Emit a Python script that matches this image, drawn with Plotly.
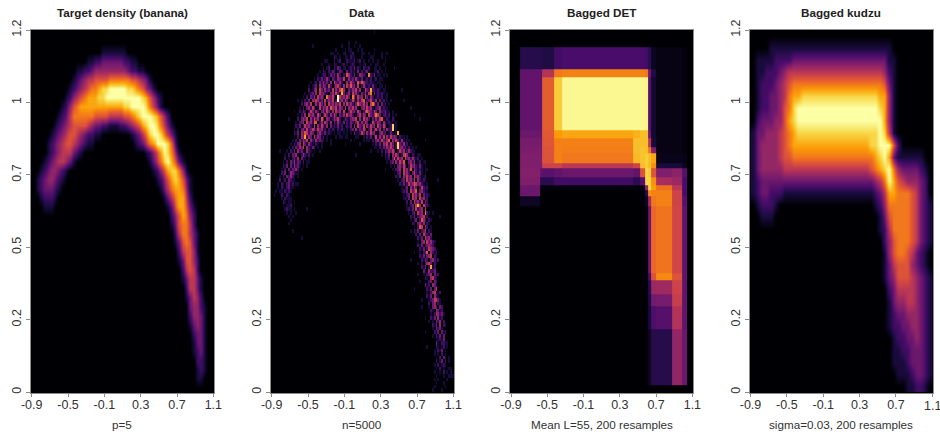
import plotly.graph_objects as go

TITLES = ["Target density (banana)", "Data", "Bagged DET", "Bagged kudzu"]
CAPTIONS = ["p=5", "n=5000", "Mean L=55, 200 resamples", "sigma=0.03, 200 resamples"]
X_TICKS = [-0.9, -0.5, -0.1, 0.3, 0.7, 1.1]
X_LABELS = ["-0.9", "-0.5", "-0.1", "0.3", "0.7", "1.1"]
Y_TICKS = [0, 0.24, 0.48, 0.72, 0.96, 1.2]
Y_LABELS = ["0", "0.2", "0.5", "0.7", "1", "1.2"]

# Each row is a list of (first column, density digits 0-a), top row first.
TARGET_ROWS = [
 [], [], [(19,"1111111")], [(15,"11223333332211")],
 [(12,"1122344444444432211")], [(11,"1234556666777777665431")],
 [(10,"12345677899aaaaa99876431")],
 [(9,"12456788899aaaaaaaaaa986421")],
 [(8,"1246788888888888899aaaa97531")],
 [(7,"12357777776666555566789aaa98642")],
 [(6,"123456666543322111223456"),(30,"89aa97531")],
 [(5,"12345665432211"),(27,"123579aa97531")],
 [(4,"1234566543211"),(28,"123578aaa962")],
 [(4,"1234555321"),(31,"12468a9741")],
 [(3,"123455431"),(32,"13579a8631")],
 [(2,"12344321"),(33,"1246899741")],
 [(1,"12344321"),(34,"1246898631")],
 [(1,"1233321"),(35,"135788741")],
 [(2,"12221"),(36,"13578852")],
 [(3,"111"),(37,"13688631")],
 [(38,"2468742")],
 [(38,"1367752")],
 [(39,"2577531")],
 [(39,"1367631")],
 [(40,"256641")],
 [(40,"136642")],
 [(41,"25652")],
 [(41,"135531")],
 [(42,"25531")],
 [(42,"13542")],
 [(43,"34421")],
 [(43,"24431")],
 [(43,"13431")],
 [(44,"2331")],
 [(44,"1331")],
 [(44,"1231")],
 [(45,"221")],
 [(45,"121")],
 [(45,"11")],
 [],
]

DATA_ROWS = [
 [(56,"1")], [], [], [(42,"1"),(46,"1")], [(38,"1"),(42,"1001"),(48,"1")],
 [(35,"1"),(40,"1011"),(47,"101"),(56,"1")],
 [(32,"11"),(36,"1"),(39,"120012"),(48,"011"),(53,"1"),(60,"1")],
 [(34,"2101"),(40,"1102110"),(49,"1"),(54,"11"),(60,"1"),(62,"1")],
 [(30,"1"),(34,"2"),(36,"120"),(41,"21112"),(47,"1201"),(53,"101"),(58,"1"),(62,"1")],
 [(27,"1"),(31,"1"),(33,"021"),(38,"1201"),(43,"121"),(48,"1"),(50,"12"),(54,"1"),(57,"11"),(61,"1")],
 [(28,"10120"),(34,"2132012"),(42,"1213021"),(50,"2112"),(55,"011"),(59,"1"),(62,"1")],
 [(26,"1021"),(31,"213201320"),(41,"3121203"),(49,"21231"),(55,"0112"),(60,"101")],
 [(25,"10122"),(31,"1323142"),(39,"2134213"),(47,"14321"),(53,"2213"),(58,"1101"),(63,"1")],
 [(23,"10213124203214325014231421301212012011")],
 [(21,"101203242314053242014253214304221211011")],
 [(20,"1012304243152024531405323415024212131101101")],
 [(20,"20134053142315042534103243524015324221210110")],
 [(18,"1012314053421034253143024153420324152031212101")],
 [(17,"102032415342014352015342530241534053142012120110")],
 [(16,"10213043542305243502134253025314253023521403120101")],
 [(16,"2034250142531405342435041534203143524052413031201")],
 [(15,"10203425301524352043524315043524103425341023412110")],
 [(15,"2132025314203425314053415203534153025143253042231101")],
 [(14,"1021405342153025314253032415342013524305324253023120101")],
 [(14,"203435042534153043124352013213435041534203142531021021")],
 [(13,"10234053426302415314031421302132035142530153243042121101")],
 [(13,"21302534215042531403121312012130415325042534053253012011")],
 [(12,"102034252304253412021210212101023041325302513524031422101")],
 [(12,"213043152431034213121010110101010314253042534103423013101")],
 [(12,"1020435243052431201"),(35,"101"),(40,"11"),(46,"110"),(50,"1021302534250425343021101")],
 [(11,"10203243504214232101"),(45,"1"),(50,"10"),(53,"10203425324604253141011")],
 [(10,"102134053142102101"),(32,"1"),(48,"1"),(55,"1021304352530253241201")],
 [(9,"10203243504213201"),(27,"1"),(56,"1"),(57,"10203243530253423120101")],
 [(8,"1021304231042101"),(26,"1"),(58,"102032435302534024211")],
 [(7,"1020324102421201"),(60,"1021304253025341021011")],
 [(7,"20102314031101"),(62,"102034253405342421201")],
 [(6,"102032413202011"),(63,"1023042534103424012011")],
 [(6,"21303142310101"),(65,"10203425302534213101")],
 [(5,"102031324201"),(66,"10234053425042121011")],
 [(5,"2130143211"),(67,"102305342035213101")],
 [(4,"10203242101"),(68,"21304253405342012")],
 [(4,"2012032110"),(69,"1023053425042121")],
 [(3,"102102312011"),(70,"2130253405342101")],
 [(3,"1021023110"),(71,"102304253025212")],
 [(4,"1102121"),(72,"21305342034211")],
 [(5,"21021"),(72,"102305342503121")],
 [(5,"102111"),(73,"2130534053412")],
 [(6,"2101101"),(74,"203053425032")],
 [(6,"101120"),(74,"1023053405321")],
 [(7,"1211"),(12,"1"),(75,"2130523405")],
 [(8,"101"),(13,"1"),(75,"10230534032101")],
 [(9,"1"),(76,"2130234512")],
 [(10,"1"),(76,"102302342021")],
 [(9,"1"),(77,"2103424021")],
 [(78,"1023504201")],
 [(11,"1"),(78,"2130235021")],
 [(79,"203053213")],
 [(80,"21305342")],
 [(80,"1034053421")],
 [(80,"213023432")],
 [(81,"2130254320")],
 [(78,"1"),(81,"1023504212")],
 [(81,"2130345021")],
 [(82,"2132034202")],
 [(80,"1"),(82,"102453021")],
 [(82,"21302312")],
 [(83,"3104223")],
 [(80,"1"),(83,"102340312")],
 [(84,"2104321")],
 [(81,"1"),(84,"1023032")],
 [(84,"3120431")],
 [(85,"213032")],
 [(85,"10245012")],
 [(85,"2130421")],
 [(82,"1"),(86,"1230531")],
 [(86,"2034021")],
 [(86,"10342032")],
 [(87,"2104312")],
 [(87,"10240231")],
 [(87,"2130412")],
 [(86,"1"),(88,"1032402")],
 [(88,"21304021")],
 [(88,"103231")],
 [(89,"2130312")],
 [(88,"1"),(90,"21303")],
 [(90,"112130")],
 [(90,"3102211")],
 [(90,"2101201")],
 [(89,"1"),(91,"21301")],
 [(89,"101"),(93,"201")],
 [(90,"10203101")],
 [(90,"20130201")],
 [(89,"1020121")],
 [(90,"1"),(92,"201"),(97,"1")],
 [(89,"1"),(92,"102"),(95,"01"),(98,"1")],
 [(90,"10"),(94,"1"),(97,"11")],
 [(89,"1"),(91,"1"),(96,"1")],
 [(90,"1"),(94,"1")],
 [(89,"1"),(95,"1")],
 [(88,"1"),(93,"1")],
]
# Notable single cells of the data panel: (row from top, column, level).
DATA_PEAKS = [(18,36,10),(19,36,10),(17,38,8),(16,38,7),(16,54,8),(17,54,7),(12,53,7),(20,55,7),
 (29,18,8),(28,18,6),(26,66,9),(27,66,9),(31,69,9),(32,69,9),(18,44,7),(20,47,6),(23,57,7),(18,30,7),
 (48,80,8),(50,84,7),(65,87,8),(54,81,6),(14,47,6),(14,49,6),(12,41,6),(34,73,6),(28,69,8),(42,78,6),
 (25,24,6),(74,89,5),(22,52,6),(36,72,6),(61,85,6),(15,43,6),(19,50,6),(21,32,6),(24,27,6),(27,22,5),
 (24,60,6),(30,64,6),(35,67,6),(38,76,6),(44,79,6),(52,82,6),(57,84,5),(68,88,5),(71,90,5),(78,91,4)]
# Stray dim cells outside the dense band.
DATA_STRAY = [(52,10),(51,11),(57,16),(49,19),(45,1),(44,2),(33,4),(24,9),(22,12),(19,14),(24,81),(30,84),
 (41,91),(51,92),(71,78),(79,84),(87,85),(93,98),(95,99),(97,94),(28,47),(30,52),(29,38),(30,32),(30,43),
 (29,58),(32,60),(35,63),(40,69),(44,71),(49,74),(4,22),(8,29),(6,56),(6,63),(10,67),(16,71),(19,72),
 (21,76),(23,78),(31,40),(33,54),(34,46),(38,62),(46,72),(55,76),(63,76),(76,82),(83,84)]

# Bagged DET: cell edges in axis units and cell levels in percent, top row first.
DET_X_EDGES = [-0.80,-0.58,-0.555,-0.427,-0.336,0.445,0.518,0.573,0.609,0.645,0.70,0.88,0.99,1.045]
DET_Y_EDGES = [1.143,1.069,1.044,0.868,0.84,0.813,0.791,0.758,0.741,0.713,0.686,0.669,0.648,0.615,0.394,0.372,0.323,0.284,0.207,0.022]
DET_LEVELS = [
 [14,14,12,20,22,22,22,20,15, 5, 3, 3, 2],
 [28,28,48,70,72,72,72,70,30,12, 3, 3, 2],
 [28,28,63,88,98,98,98,97,25, 8, 3, 3, 2],
 [30,30,62,78,80,82,85,85,30, 8, 3, 3, 2],
 [33,33,61,72,72,85,85,85,50,10, 3, 3, 2],
 [34,34,60,72,71,85,86,85,70,35, 3, 3, 2],
 [35,35,60,72,70,84,86,88,85,80, 4, 4, 3],
 [35,35,55,55,50,55,85,88,85,75,10,10, 5],
 [36,28,26,28,30,28,60,90,88,60,35,38,25],
 [35,15,15,20,20,15,25,90,90,75,45,42,22],
 [30, 2, 2, 2, 2, 2, 3,40,90,78,68,50,22],
 [30, 0, 0, 0, 0, 0, 1,15,75,72,72,55,22],
 [ 6, 0, 0, 0, 0, 0, 1, 6,45,70,72,55,25],
 [ 0, 0, 0, 0, 0, 0, 0, 2,30,66,69,56,28],
 [ 0, 0, 0, 0, 0, 0, 0, 2,22,60,74,60,28],
 [ 0, 0, 0, 0, 0, 0, 0, 1,15,42,43,55,28],
 [ 0, 0, 0, 0, 0, 0, 0, 1,12,32,33,53,28],
 [ 0, 0, 0, 0, 0, 0, 0, 1,10,23,25,48,28],
 [ 0, 0, 0, 0, 0, 0, 0, 1, 6,14,14,40,30],
]

KUDZU_ROWS = [
 [],
 [(4,"111"),(7,"11111111111111111111111"),(30,"1")],
 [(1,"11112"),(6,"222"),(9,"333333333333333333333"),(30,"11")],
 [(1,"1122234"),(8,"555555555555555555555"),(29,"421")],
 [(1,"12223456"),(9,"77777777777777777777"),(29,"631")],
 [(1,"12233457"),(9,"88999999999999999998"),(29,"841")],
 [(1,"122334679"),(10,"aaaaaaaaaaaaaaaaaa"),(28,"9841")],
 [(1,"233344689"),(10,"aaaaaaaaaaaaaaaaaaa"),(29,"841")],
 [(0,"1334445678"),(10,"999999999999999999a"),(29,"951")],
 [(0,"1344445678"),(9,"88888888888888888"),(26,"99aaa62")],
 [(0,"1344445667"),(10,"77777777777777777"),(27,"89a83111111")],
 [(0,"134444455"),(9,"55555555555555555"),(26,"6789a74333321")],
 [(0,"123333333"),(9,"33333333333333333"),(26,"3457a86544432")],
 [(0,"123322211111111111111111111"),(27,"235887776532")],
 [(1,"122210"),(27,"1247777765321")],
 [(2,"111"),(28,"136777765321")],
 [(28,"125777765321")],
 [(29,"24677765321")],
 [(29,"1467765321")],
 [(29,"1356664321")],
 [(29,"13466654321")],
 [(30,"2355554321")],
 [(30,"1344554321")],
 [(30,"1233444321")],
 [(30,"1223344321")],
 [(31,"122334321")],
 [(31,"112233321")],
 [(31,"111233321")],
 [(32,"11123321")],
 [(34,"11221")],
]


def to_grid(rows, cols):
    grid = [[0] * cols for _ in rows]
    for i, row in enumerate(rows):
        for start, digits in row:
            for k, ch in enumerate(digits):
                if start + k < cols:
                    grid[i][start + k] = int(ch, 16)
    return grid[::-1]


data_grid = to_grid(DATA_ROWS, 100)
for r, c in DATA_STRAY:
    data_grid[99 - r][c] = 1
for r, c, v in DATA_PEAKS:
    data_grid[99 - r][c] = v

PANELS_PX = [(30.7, 214), (270.7, 454), (510, 693), (749.5, 933)]
W, H = 940, 436
TOP, BOTTOM = 30, 393

fig = go.Figure()
common = dict(colorscale="Inferno", showscale=False, hoverinfo="skip")
fig.add_trace(go.Heatmap(z=to_grid(TARGET_ROWS, 50), x0=-0.88, dx=0.04, y0=0.015, dy=0.03,
                         zmin=0, zmax=10, zsmooth="best", xaxis="x", yaxis="y", **common))
fig.add_trace(go.Heatmap(z=data_grid, x0=-0.89, dx=0.02, y0=0.006, dy=0.012,
                         zmin=0, zmax=10, zsmooth=False, xaxis="x2", yaxis="y2", **common))
fig.add_trace(go.Heatmap(z=DET_LEVELS[::-1], x=DET_X_EDGES, y=DET_Y_EDGES[::-1],
                         zmin=0, zmax=100, zsmooth=False, xaxis="x3", yaxis="y3", **common))
fig.add_trace(go.Heatmap(z=to_grid(KUDZU_ROWS, 40), x0=-0.875, dx=0.05, y0=0.02, dy=0.04,
                         zmin=0, zmax=10, zsmooth="best", xaxis="x4", yaxis="y4", **common))

GREY = "#8c8c8c"
TEXT = "#333333"
layout = dict(width=W, height=H, autosize=False, margin=dict(l=0, r=0, t=0, b=0),
              paper_bgcolor="white", plot_bgcolor="#000004", showlegend=False,
              font=dict(family="Liberation Sans, Arial, sans-serif", size=12, color=TEXT))
annotations = []
for n, (x0, x1) in enumerate(PANELS_PX):
    suffix = "" if n == 0 else str(n + 1)
    # The last tick label of the last panel runs past the page edge, so it is placed as a note.
    x_text = X_LABELS if n < 3 else X_LABELS[:-1] + [""]
    layout["xaxis" + suffix] = dict(domain=[x0 / W, x1 / W], range=[-0.911, 1.107], anchor="y" + suffix,
        tickmode="array", tickvals=X_TICKS, ticktext=x_text, ticks="outside", ticklen=3, tickwidth=1,
        ticklabelstandoff=-3,
        tickcolor=GREY, showline=True, linecolor=GREY, linewidth=1, mirror=True, showgrid=False, zeroline=False,
        tickfont=dict(size=12.5, color=TEXT), tickangle=0, automargin=False)
    layout["yaxis" + suffix] = dict(domain=[1 - BOTTOM / H, 1 - TOP / H], range=[-0.003, 1.2], anchor="x" + suffix,
        tickmode="array", tickvals=Y_TICKS, ticktext=Y_LABELS, ticks="outside", ticklen=4, tickwidth=1,
        tickcolor=GREY, showline=True, linecolor=GREY, linewidth=1, mirror=True, showgrid=False, zeroline=False,
        tickfont=dict(size=12.5, color=TEXT), tickangle=-90, automargin=False)
    mid = (x0 + x1) / 2 / W
    annotations.append(dict(text="<b>" + TITLES[n] + "</b>", x=mid, y=1 - 12.5 / H, xref="paper", yref="paper",
                            showarrow=False, font=dict(size=11.7, color="#222222"), xanchor="center", yanchor="middle"))
    annotations.append(dict(text=CAPTIONS[n], x=mid, y=1 - 424 / H, xref="paper", yref="paper",
                            showarrow=False, font=dict(size=11.7, color=TEXT), xanchor="center", yanchor="middle"))
annotations.append(dict(text=X_LABELS[-1], x=X_TICKS[-1], xref="x4", y=1 - 406 / H, yref="paper", showarrow=False,
                        font=dict(size=12.5, color=TEXT), xanchor="center", yanchor="middle"))
layout["annotations"] = annotations
fig.update_layout(**layout)
fig.write_html("out.html", config={"displayModeBar": False}, post_script="document.body.style.margin='0';")
